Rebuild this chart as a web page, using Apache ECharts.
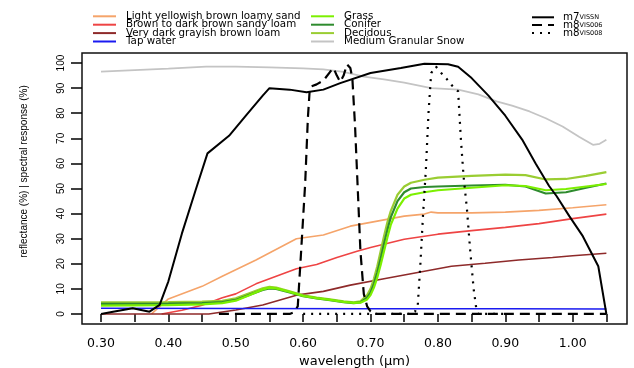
<!DOCTYPE html>
<html>
<head>
<meta charset="utf-8">
<script src="https://cdn.jsdelivr.net/npm/echarts@6/dist/echarts.min.js"></script>
<style>
  html, body { margin: 0; padding: 0; background: #fff; }
  #chart { width: 634px; height: 368px; }
</style>
</head>
<body>
<div id="chart"></div>
<script>
// tick positions
const xTicks = [0.30, 0.35, 0.40, 0.45, 0.50, 0.55, 0.60, 0.65, 0.70, 0.75, 0.80, 0.85, 0.90, 0.95, 1.00, 1.05]
const xLabels = [0.30, 0.40, 0.50, 0.60, 0.70, 0.80, 0.90, 1.00]
const yTicks = [0, 10, 20, 30, 40, 50, 60, 70, 80, 90, 100]

// soils (reflectance %)
const wlSand = [0.375, 0.40, 0.45, 0.48, 0.53, 0.59, 0.63, 0.67, 0.70, 0.75, 0.78, 0.79, 0.80, 0.85, 0.90, 0.95, 1.00, 1.05]
const sand = [0, 6, 11, 15, 21.5, 30, 31.5, 35, 36.5, 39, 39.8, 40.6, 40.3, 40.3, 40.6, 41.3, 42.3, 43.5]
const wlSandyLoam = [0.39, 0.42, 0.45, 0.48, 0.50, 0.53, 0.56, 0.59, 0.62, 0.65, 0.68, 0.70, 0.75, 0.80, 0.85, 0.90, 0.95, 1.00, 1.05]
const sandyLoam = [0, 1.5, 3.5, 6.5, 8, 12, 15, 18, 19.7, 22.5, 25, 26.5, 29.8, 31.8, 33.2, 34.5, 36, 38, 39.8]
const wlLoam = [0.30, 0.46, 0.50, 0.54, 0.59, 0.63, 0.67, 0.72, 0.77, 0.82, 0.87, 0.92, 0.97, 1.00, 1.05]
const loam = [0, 0, 1.6, 3.6, 7.5, 9, 11.5, 14, 16.5, 19, 20.2, 21.5, 22.5, 23.2, 24.2]
const wlWater = [0.30, 0.50, 0.70, 0.90, 1.05]
const water = [2.3, 2.2, 2.1, 2.1, 2.0]

// vegetation
const wlVeg = [0.30, 0.40, 0.45, 0.48, 0.50, 0.52, 0.54, 0.55, 0.56, 0.58, 0.60, 0.62, 0.64, 0.66, 0.675, 0.685, 0.695, 0.70, 0.705, 0.71, 0.715, 0.72, 0.725, 0.73, 0.74, 0.75, 0.76, 0.78, 0.80, 0.85, 0.90, 0.93, 0.96, 0.99, 1.02, 1.05]
const grass = [3.3, 3.5, 3.8, 4.3, 5.3, 7.5, 9.8, 10.5, 10.2, 8.8, 7.2, 6.3, 5.6, 4.8, 4.4, 4.5, 5.8, 7.5, 10.5, 14.5, 19.5, 25, 30.5, 35.5, 42, 46, 47.5, 48.5, 49.3, 50.3, 51.3, 51, 49.3, 49.8, 50.8, 51.8]
const conifer = [4.0, 4.1, 4.3, 4.7, 5.6, 7.6, 9.6, 10.2, 10.0, 8.6, 7.1, 6.2, 5.5, 4.7, 4.3, 4.6, 6.5, 8.5, 12, 16.5, 22, 28, 33.5, 38.5, 45, 48.5, 50, 50.6, 50.8, 51.2, 51.5, 50.8, 48, 48.5, 50.3, 52]
const deciduous = [4.6, 4.7, 4.9, 5.2, 6.2, 8.2, 10.2, 10.8, 10.5, 9.0, 7.4, 6.5, 5.8, 5.0, 4.6, 5.0, 7.5, 10, 14, 19, 25, 31, 36.5, 41, 47.5, 50.8, 52.3, 53.5, 54.3, 55, 55.5, 55.3, 53.6, 53.8, 55, 56.5]

// snow
const wlSnow = [0.30, 0.35, 0.40, 0.456, 0.50, 0.55, 0.60, 0.63, 0.66, 0.69, 0.72, 0.75, 0.79, 0.83, 0.86, 0.887, 0.91, 0.936, 0.96, 0.985, 1.01, 1.03, 1.04, 1.05]
const snow = [96.6, 97.2, 97.8, 98.6, 98.6, 98.3, 97.9, 97.5, 96.5, 94.6, 93.5, 92.2, 90, 89.4, 87.5, 84.7, 83, 80.7, 78, 74.7, 70.5, 67.4, 67.8, 69.4]

// spectral response functions (%)
const wlM7 = [0.30, 0.32, 0.347, 0.372, 0.387, 0.40, 0.42, 0.44, 0.458, 0.49, 0.515, 0.54, 0.55, 0.58, 0.605, 0.63, 0.655, 0.70, 0.745, 0.78, 0.815, 0.83, 0.85, 0.875, 0.90, 0.925, 0.945, 0.965, 0.976, 0.995, 1.015, 1.038, 1.05]
const m7 = [0, 1, 2.3, 0.9, 3.6, 13, 32, 49, 64, 71, 79, 87, 90, 89.4, 88.4, 89.4, 92, 96, 98, 99.7, 99.5, 98.5, 94, 87, 79, 69.5, 60, 51, 47, 39, 31, 19, 0]
const wlM8a = [0.475, 0.58, 0.585, 0.592, 0.597, 0.603, 0.607, 0.61, 0.62, 0.63, 0.64, 0.645, 0.65, 0.655, 0.66, 0.665, 0.67, 0.673, 0.677, 0.681, 0.685, 0.69, 0.695, 0.70, 0.705, 1.05]
const m8a = [0, 0, 0.5, 3, 25, 52, 78, 90.5, 91.5, 93, 96.5, 98, 95, 92.5, 95, 99.5, 98, 94, 75, 50, 25, 8, 3, 1, 0, 0]
const wlM8b = [0.60, 0.76, 0.766, 0.77, 0.774, 0.778, 0.782, 0.786, 0.79, 0.797, 0.805, 0.812, 0.82, 0.83, 0.834, 0.838, 0.843, 0.848, 0.853, 0.857, 0.86, 0.90]
const m8b = [0, 0, 1, 3, 20, 40, 57, 80, 96, 98.6, 96, 94, 91.3, 88.7, 70, 55, 42, 25, 10, 2, 0, 0]

const chart = echarts.init(document.getElementById('chart'))

function line(name, xs, ys, color, width, type) {
  return {
    name: name,
    type: 'line',
    data: xs.map((x, i) => [x, ys[i]]),
    symbol: 'none',
    showSymbol: false,
    lineStyle: { color: color, width: width, type: type || 'solid' },
    itemStyle: { color: color },
    silent: true,
  }
}

const font = 'DejaVu Sans'
const legendBase = {
  orient: 'vertical',
  padding: 0,
  itemGap: -1.6,
  itemWidth: 23,
  itemHeight: 7.7,
  selectedMode: false,
  itemStyle: { opacity: 0 },
  textStyle: { fontFamily: font, fontSize: 10.3, color: '#000', lineHeight: 7.7, padding: [0, 0, 0, 5] },
}

const option = {
  animation: false,
  backgroundColor: '#fff',
  grid: {
    left: 82,
    right: 7,
    top: 53,
    bottom: 44,
    containLabel: false,
    outerBoundsMode: 'none',
    show: true,
    borderColor: '#111',
    borderWidth: 1.5,
  },
  legend: [
    Object.assign({}, legendBase, {
      left: 92,
      top: 11.3,
      data: ['Light yellowish brown loamy sand', 'Brown to dark brown sandy loam', 'Very dark grayish brown loam', 'Tap water'],
    }),
    Object.assign({}, legendBase, {
      left: 310,
      top: 11.3,
      data: ['Grass', 'Conifer', 'Decidous', 'Medium Granular Snow'],
    }),
    Object.assign({}, legendBase, {
      left: 531,
      top: 12.3,
      itemWidth: 22,
      itemHeight: 7.3,
      itemGap: -2.2,
      data: ['m7_VISSN', 'm8_VIS006', 'm8_VIS008'],
      formatter: (n) => {
        const p = n.split('_')
        return '{b|' + p[0] + '}{s|' + p[1] + '}'
      },
      textStyle: {
        padding: [0, 0, 0, 4],
        rich: {
          b: { fontFamily: font, fontSize: 10.3, lineHeight: 7.3, color: '#000' },
          s: { fontFamily: font, fontSize: 6.5, lineHeight: 2, verticalAlign: 'bottom', color: '#000' },
        },
      },
    }),
  ],
  xAxis: {
    type: 'value',
    min: 0.2718,
    max: 1.0806,
    name: 'wavelength (µm)',
    nameLocation: 'middle',
    nameGap: 27,
    nameTextStyle: { fontFamily: font, fontSize: 13, color: '#000' },
    axisLine: { show: false },
    axisTick: { show: true, inside: false, length: 8, customValues: xTicks, lineStyle: { color: '#000', width: 1.5 } },
    axisLabel: {
      customValues: xLabels,
      margin: 13,
      fontFamily: font,
      fontSize: 12.5,
      color: '#000',
      formatter: (v) => v.toFixed(2),
    },
    splitLine: { show: false },
  },
  yAxis: {
    type: 'value',
    min: -4,
    max: 104,
    name: 'reflectance (%) | spectral response (%)',
    nameLocation: 'middle',
    nameGap: 53,
    nameTextStyle: { fontFamily: 'Liberation Sans', fontSize: 10, color: '#000', padding: [0, 0, 0, 34] },
    axisLine: { show: false },
    axisTick: { show: true, inside: false, length: 11, customValues: yTicks, lineStyle: { color: '#000', width: 1.5 } },
    axisLabel: {
      customValues: yTicks,
      rotate: 90,
      margin: 16,
      fontFamily: 'Liberation Sans',
      fontSize: 10,
      color: '#000',
    },
    splitLine: { show: false },
  },
  series: [
    line('Light yellowish brown loamy sand', wlSand, sand, '#F5A46A', 1.6),
    line('Brown to dark brown sandy loam', wlSandyLoam, sandyLoam, '#EE4444', 1.6),
    line('Very dark grayish brown loam', wlLoam, loam, '#8E2A2A', 1.6),
    line('Tap water', wlWater, water, '#1A1AF0', 1.6),
    line('Medium Granular Snow', wlSnow, snow, '#C4C4C4', 1.8),
    line('Decidous', wlVeg, deciduous, '#9ACD32', 2.2),
    line('Conifer', wlVeg, conifer, '#2E8B2E', 2.2),
    line('Grass', wlVeg, grass, '#7CF000', 2.2),
    line('m7_VISSN', wlM7, m7, '#000', 2),
    line('m8_VIS006', wlM8a, m8a, '#000', 2.2, [10, 6]),
    line('m8_VIS008', wlM8b, m8b, '#000', 2.2, [2, 6]),
  ],
}

chart.setOption(option)
</script>
</body>
</html>
